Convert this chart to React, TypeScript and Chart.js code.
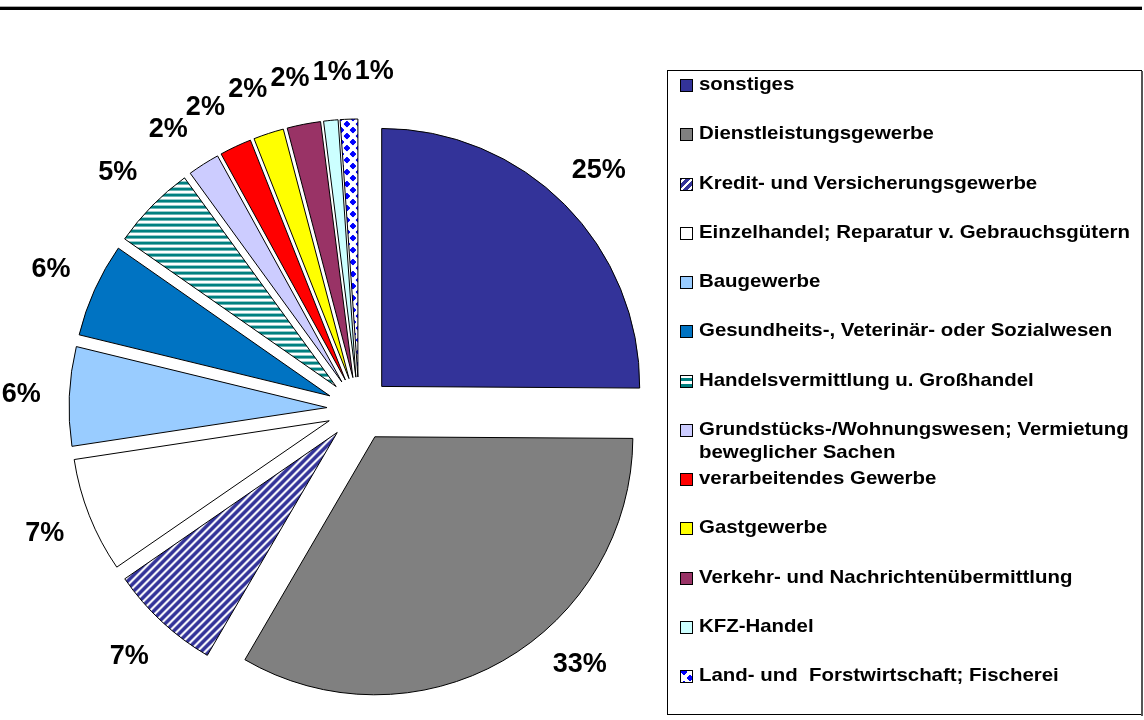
import React, { useEffect, useRef } from "react";
import { Chart, registerables } from "chart.js";

Chart.register(...registerables);

// ---------- data ----------
const categories = [
  "sonstiges",
  "Dienstleistungsgewerbe",
  "Kredit- und Versicherungsgewerbe",
  "Einzelhandel; Reparatur v. Gebrauchsgütern",
  "Baugewerbe",
  "Gesundheits-, Veterinär- oder Sozialwesen",
  "Handelsvermittlung u. Großhandel",
  "Grundstücks-/Wohnungswesen; Vermietung beweglicher Sachen",
  "verarbeitendes Gewerbe",
  "Gastgewerbe",
  "Verkehr- und Nachrichtenübermittlung",
  "KFZ-Handel",
  "Land- und  Forstwirtschaft; Fischerei",
];
const shares = [25.1, 33.3, 7.0, 7.2, 6.2, 5.9, 5.3, 2.0, 2.0, 1.9, 2.1, 0.9, 1.1];

// ---------- styles ----------
const fills = [
  "#333399",
  "#808080",
  "pattern:diag",
  "#FFFFFF",
  "#99CCFF",
  "#0073C2",
  "pattern:horiz",
  "#CCCCFF",
  "#FF0000",
  "#FFFF00",
  "#993366",
  "#CCFFFF",
  "pattern:diamond",
];

const EXPLODE = 32;
const RADIUS = 258;
const LABEL_R = 338;
const FONT = '"Liberation Sans", Arial, Helvetica, sans-serif';
const LABEL_FONT = `bold 27px ${FONT}`;
const LEGEND_FONT = `bold 19px ${FONT}`;
const LEGEND_SX = 1.075;
const LEG_TOP = 85;
const LEG_PITCH = 49.25;
const LEG_LINE = 23;
const LEG_TEXT_X = 699;
const LEG_SWATCH_X = 680;
const LEG_MAXW = 440;

function pixelPattern(
  ctx: CanvasRenderingContext2D,
  w: number,
  h: number,
  fg: string,
  bg: string,
  test: (x: number, y: number) => boolean
) {
  const tile = document.createElement("canvas");
  tile.width = w;
  tile.height = h;
  const g = tile.getContext("2d")!;
  g.fillStyle = bg;
  g.fillRect(0, 0, w, h);
  g.fillStyle = fg;
  for (let y = 0; y < h; y++)
    for (let x = 0; x < w; x++) if (test(x, y)) g.fillRect(x, y, 1, 1);
  return ctx.createPattern(tile, "repeat");
}

function wrapText(ctx: CanvasRenderingContext2D, text: string, maxW: number) {
  const words = text.split(" ");
  const lines: string[] = [];
  let cur = "";
  for (const w of words) {
    const trial = cur === "" ? w : cur + " " + w;
    if (cur !== "" && ctx.measureText(trial).width * LEGEND_SX > maxW) {
      lines.push(cur);
      cur = w;
    } else cur = trial;
  }
  if (cur !== "") lines.push(cur);
  return lines;
}

const explodePlugin = {
  id: "explodeSlices",
  afterDatasetUpdate(chart: any, args: any) {
    const meta = chart.getDatasetMeta(args.index);
    meta.data.forEach((arc: any) => {
      if (arc.__exploded) return;
      arc.__exploded = true;
      const base = arc.draw;
      arc.draw = function (ctx: CanvasRenderingContext2D) {
        const mid = (this.startAngle + this.endAngle) / 2;
        ctx.save();
        ctx.translate(Math.cos(mid) * EXPLODE, Math.sin(mid) * EXPLODE);
        base.call(this, ctx);
        ctx.restore();
      };
    });
  },
};

const labelPlugin = {
  id: "pctLabels",
  afterDatasetsDraw(chart: any) {
    const ctx: CanvasRenderingContext2D = chart.ctx;
    const meta = chart.getDatasetMeta(0);
    const vals: number[] = chart.data.datasets[0].data;
    const total = vals.reduce((a, b) => a + b, 0);
    ctx.save();
    ctx.font = LABEL_FONT;
    ctx.fillStyle = "#000";
    ctx.textAlign = "center";
    ctx.textBaseline = "middle";
    const LH = 22;
    const GAP = 3;
    const STEP = 0.001;
    const maxY = chart.height - 55;
    const items = meta.data.map((arc: any, i: number) => {
      const { x, y, startAngle, endAngle } = arc.getProps(
        ["x", "y", "startAngle", "endAngle"],
        true
      );
      const text = Math.round((vals[i] / total) * 100) + "%";
      return { x, y, ang: (startAngle + endAngle) / 2, text, w: ctx.measureText(text).width };
    });
    const place = (it: any) => {
      let lx = it.x + LABEL_R * Math.cos(it.ang);
      let ly = it.y + LABEL_R * Math.sin(it.ang);
      if (ly > maxY) {
        ly = maxY;
        const dx = Math.sqrt(Math.max(0, LABEL_R * LABEL_R - (ly - it.y) * (ly - it.y)));
        lx = it.x + Math.sign(Math.cos(it.ang)) * dx;
      }
      return { lx, ly };
    };
    for (let iter = 0; iter < 3000; iter++) {
      let moved = false;
      for (let i = 0; i < items.length - 1; i++) {
        const a = place(items[i]);
        const b = place(items[i + 1]);
        if (
          Math.abs(a.lx - b.lx) < (items[i].w + items[i + 1].w) / 2 + GAP &&
          Math.abs(a.ly - b.ly) < LH
        ) {
          items[i].ang -= STEP;
          items[i + 1].ang += STEP;
          moved = true;
        }
      }
      if (!moved) break;
    }
    items.forEach((it: any) => {
      const p = place(it);
      ctx.fillText(it.text, p.lx, p.ly);
    });
    ctx.restore();
  },
};

const legendPlugin = {
  id: "boxLegend",
  afterDraw(chart: any) {
    const ctx: CanvasRenderingContext2D = chart.ctx;
    const bgs = chart.data.datasets[0].backgroundColor;
    const names: string[] = chart.data.labels;
    ctx.save();
    // top rule
    ctx.fillStyle = "#aaaaaa";
    ctx.fillRect(0, 6, 1142, 1);
    ctx.fillStyle = "#000";
    ctx.fillRect(0, 7, 1142, 3);
    // legend box
    ctx.strokeStyle = "#000";
    ctx.lineWidth = 1;
    ctx.strokeRect(667.5, 70.5, 474, 644);
    ctx.fillStyle = "#555";
    ctx.fillRect(1141, 71, 2, 645);
    ctx.font = LEGEND_FONT;
    ctx.textBaseline = "middle";
    ctx.textAlign = "left";
    names.forEach((name, i) => {
      const cy = Math.round(LEG_TOP + i * LEG_PITCH);
      ctx.fillStyle = bgs[i];
      ctx.fillRect(LEG_SWATCH_X, cy - 6, 12, 12);
      ctx.strokeStyle = "#000";
      ctx.strokeRect(LEG_SWATCH_X + 0.5, cy - 5.5, 12, 12);
      const lines = wrapText(ctx, name, LEG_MAXW);
      ctx.fillStyle = "#000";
      lines.forEach((ln, k) => {
        ctx.save();
        ctx.translate(LEG_TEXT_X, cy + k * LEG_LINE);
        ctx.scale(LEGEND_SX, 1);
        ctx.fillText(ln, 0, 0);
        ctx.restore();
      });
    });
    ctx.restore();
  },
};

export default function App() {
  const ref = useRef<HTMLCanvasElement>(null);
  useEffect(() => {
    const canvas = ref.current!;
    const ctx = canvas.getContext("2d")!;
    const patterns: Record<string, any> = {
      "pattern:diag": pixelPattern(ctx, 8, 8, "#333399", "#FFFFFF", (x, y) => (x + y) % 8 < 5),
      "pattern:horiz": pixelPattern(ctx, 1, 6, "#008080", "#FFFFFF", (_x, y) => y < 3),
      "pattern:diamond": pixelPattern(ctx, 12, 12, "#0000FF", "#FFFFFF", (x, y) => {
        const px = x + 0.5;
        const py = y + 0.5;
        const d1 = Math.abs(px - 6) + Math.abs(py - 6);
        const d2 = Math.min(
          Math.abs(px) + Math.abs(py),
          Math.abs(px - 12) + Math.abs(py),
          Math.abs(px) + Math.abs(py - 12),
          Math.abs(px - 12) + Math.abs(py - 12)
        );
        return d1 <= 3.6 || d2 <= 3.6;
      }),
    };
    const bg = fills.map((f) => patterns[f] ?? f);
    const chart = new Chart(canvas, {
      type: "pie",
      data: {
        labels: categories,
        datasets: [
          {
            data: shares,
            backgroundColor: bg,
            borderColor: "#000000",
            borderWidth: 1,
            radius: RADIUS,
          } as any,
        ],
      },
      options: {
        responsive: false,
        maintainAspectRatio: false,
        animation: false,
        devicePixelRatio: 1,
        events: [],
        layout: { padding: { left: 59, right: 485, top: 109, bottom: 11 } },
        plugins: {
          legend: { display: false },
          tooltip: { enabled: false },
        },
      } as any,
      plugins: [explodePlugin, labelPlugin, legendPlugin] as any,
    });
    return () => chart.destroy();
  }, []);
  return (
    <div
      style={{
        position: "absolute",
        left: 0,
        top: 0,
        width: 1144,
        height: 720,
        background: "#ffffff",
      }}
    >
      <canvas ref={ref} width={1144} height={720} style={{ display: "block" }} />
    </div>
  );
}
